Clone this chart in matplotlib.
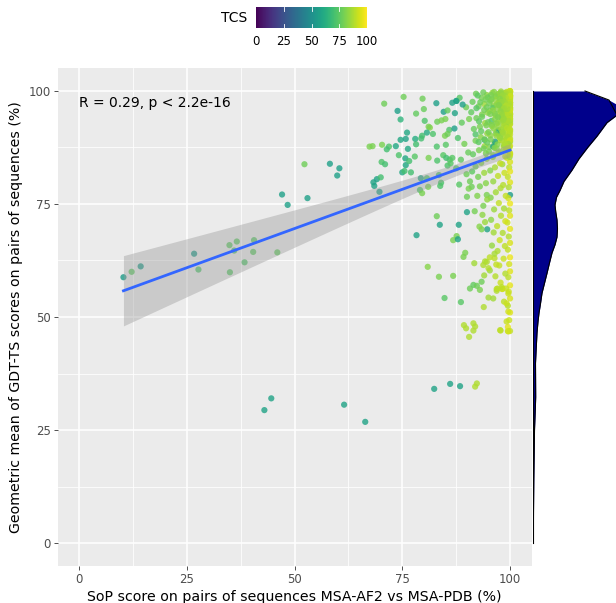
import numpy as np
import matplotlib
matplotlib.use("Agg")
import matplotlib.pyplot as plt
from matplotlib.colors import Normalize
from matplotlib import cm

# ---------------- data ----------------
# (SoP, GDT-TS geometric mean, TCS)
sparse_sop = [10.3, 12.2, 14.3, 26.7, 27.7, 34.9, 36.6, 36.0, 40.4, 38.4, 35.0, 46.0, 40.6,
              44.6, 43.0, 61.5, 66.4,
              52.3, 58.2, 60.4, 59.9, 47.1, 53.0, 48.4]
sparse_gdt = [58.8, 60.0, 61.2, 64.0, 60.5, 65.9, 66.7, 64.7, 64.4, 62.1, 59.9, 64.3, 67.0,
              32.0, 29.4, 30.6, 26.8,
              83.8, 83.9, 82.9, 81.3, 77.1, 76.3, 74.8]
sparse_tcs = [55, 75, 55, 55, 72, 75, 75, 72, 75, 73, 74, 76, 74,
              58, 58, 58, 58,
              78, 57, 57, 57, 57, 57, 57]

mid_sop = [70.8, 75.3, 79.7, 82.9, 86.6, 87.6, 73.9, 78.2, 80.0, 84.6, 85.5, 74.6, 80.2, 83.1,
           84.1, 85.0, 81.4, 81.1, 85.9, 76.1, 79.6, 80.7, 82.1, 84.9, 85.5, 74.6, 75.8, 78.0,
           79.4, 67.4, 68.1, 70.3, 71.9, 73.5, 71.4, 76.3, 78.2, 83.0, 85.1, 74.2, 75.7, 77.9,
           81.1, 83.1, 84.5, 85.2, 86.0, 86.6, 70.2, 71.0, 75.8, 76.6, 85.5, 86.2, 75.0, 75.5,
           77.0, 83.5, 68.3, 69.1, 70.0, 79.3, 80.7, 68.5, 69.7, 79.1, 79.6, 81.0, 83.8, 84.0,
           83.0, 83.7, 78.3, 88.1, 86.8, 87.6, 87.9, 80.9, 83.5, 86.8, 84.8, 88.6, 90.7, 91.5,
           92.3, 93.0, 93.4, 91.7, 93.8, 94.6, 93.9, 95.0, 96.1, 96.9, 98.2, 89.3, 89.8, 91.5,
           91.9, 91.5, 90.5, 97.8, 99.5, 82.4, 86.1, 88.4, 91.9, 92.3, 90.0, 94.7, 90.0, 91.1,
           90.7, 93.8, 94.6, 93.4, 89.6, 89.2]
mid_gdt = [97.2, 98.7, 98.3, 97.3, 97.4, 97.8, 95.6, 95.0, 96.0, 95.4, 95.7, 93.7, 93.4, 93.2,
           93.5, 93.8, 91.9, 92.1, 91.4, 90.8, 90.1, 90.8, 90.5, 90.1, 90.5, 89.2, 89.4, 89.4,
           89.5, 87.7, 87.8, 88.1, 87.7, 87.8, 87.1, 87.2, 88.2, 87.7, 88.1, 85.8, 85.1, 85.5,
           85.2, 84.6, 85.8, 85.2, 84.8, 85.2, 84.3, 83.8, 83.6, 84.5, 83.5, 84.0, 82.0, 82.3,
           82.0, 81.4, 79.8, 80.5, 80.9, 80.7, 80.7, 79.0, 77.7, 78.1, 77.4, 78.8, 79.0, 79.7,
           72.3, 70.4, 68.1, 70.4, 67.0, 67.9, 67.2, 61.1, 58.9, 59.1, 54.2, 53.3, 56.3, 57.1,
           56.9, 56.0, 57.8, 61.9, 61.5, 62.2, 52.2, 54.3, 54.1, 56.2, 56.2, 48.2, 47.5, 48.6,
           47.9, 47.0, 45.6, 47.0, 46.9, 34.1, 35.2, 34.7, 34.6, 35.3, 73.2, 69.4, 76.6, 78.8,
           80.0, 74.6, 77.0, 69.4, 64.2, 63.3]
mid_tcs = [78, 78, 78, 57, 58, 60, 57, 76, 77, 57, 76, 65, 72, 78,
           80, 80, 82, 80, 72, 60, 70, 62, 72, 80, 78, 60, 58, 62,
           70, 80, 80, 80, 72, 60, 70, 60, 70, 72, 74, 72, 60, 74,
           80, 72, 74, 70, 72, 74, 72, 70, 60, 70, 72, 74, 60, 70,
           70, 72, 58, 58, 70, 60, 72, 58, 58, 72, 80, 80, 72, 72,
           78, 58, 58, 58, 80, 80, 58, 82, 80, 80, 74, 74, 78, 76,
           78, 80, 78, 86, 88, 88, 88, 86, 86, 90, 90, 88, 88, 88,
           88, 88, 88, 90, 90, 58, 58, 58, 88, 88, 58, 58, 78, 78,
           78, 80, 80, 80, 80, 80]

dense_sop = [100, 99.7, 100, 99.5, 100, 99.8, 100, 99.6, 100, 99.9, 99.4, 100, 99.7, 100, 99.5,
             100, 99.8, 100, 99.6, 100, 99.3, 100, 99.8, 100, 99.5, 100, 99.7, 100, 99.6, 100,
             99.8, 100, 99.4, 100, 99.7, 100, 99.5, 100, 99.8, 100, 99.6, 100, 99.7, 100, 99.5,
             100, 99.8, 99.5, 100,
             99.0, 98.6, 98.9, 98.3, 98.8, 98.4, 99.1, 98.5, 98.9, 98.2, 98.7, 98.4, 99.0, 98.6,
             98.9, 98.3, 98.8, 98.5, 98.9, 98.2, 98.6,
             97.6, 96.8, 95.9, 97.3, 96.2, 95.5, 97.8, 96.6, 95.3, 97.1, 95.8, 96.9, 95.4, 97.6,
             96.4, 95.2, 97.3, 96.0, 97.7, 96.5, 95.4, 97.2, 96.1, 97.8, 96.7, 95.5, 97.4, 96.3,
             97.9, 95.6, 97.0, 96.2, 97.6, 95.8, 97.1, 96.4, 97.5, 95.3, 96.6, 97.8, 96.9,
             94.6, 93.4, 92.1, 94.0, 92.7, 91.3, 94.8, 93.5, 92.2, 91.0, 94.2, 93.0, 91.6, 94.7,
             93.2, 92.0, 94.1, 92.8, 91.4, 94.6, 93.3, 92.0, 94.0, 92.6, 91.2, 94.4, 93.0, 92.4,
             94.7, 93.6, 91.8, 94.2, 92.9,
             97.1, 98.1, 99.1, 99.6, 99.2, 99.6, 99.2, 99.6, 97.7,
             94.2, 95.3, 96.4, 95.0, 96.8, 94.0,
             88.3, 89.8, 90.5, 88.8, 87.9, 89.4, 90.3, 88.6, 87.5, 89.9, 88.2, 90.4,
             87.5, 89.0, 87.2, 96.0, 95.7, 97.3, 94.1, 96.1, 87.1, 97.3, 96.5]
dense_gdt = [100.0, 99.4, 98.8, 98.1, 97.5, 96.9, 96.2, 95.4, 94.9, 94.1, 93.3, 92.6, 91.8, 91.0,
             90.2, 89.5, 88.6, 87.9, 87.0, 86.1, 85.2, 84.3, 83.1, 82.2, 81.0, 79.8, 78.7, 77.0,
             76.3, 75.1, 73.6, 72.4, 70.9, 69.5, 67.8, 66.4, 64.9, 63.2, 61.7, 60.1, 58.8, 57.0,
             55.6, 54.1, 52.5, 51.0, 49.3, 47.8, 46.9,
             99.2, 97.8, 96.0, 94.4, 92.7, 90.9, 89.3, 87.6, 85.5, 83.8, 81.9, 79.2, 76.8, 74.0,
             71.2, 68.6, 65.7, 62.9, 59.6, 56.2, 53.4,
             99.5, 98.9, 99.6, 97.4, 96.8, 97.9, 95.3, 94.6, 95.6, 93.0, 92.2, 91.0, 90.2, 89.1,
             88.4, 87.6, 86.3, 85.4, 84.0, 83.1, 82.4, 81.2, 80.0, 78.5, 77.6, 76.4, 75.2, 73.8,
             72.4, 71.5, 70.1, 68.7, 67.0, 65.8, 64.6, 63.0, 61.4, 60.3, 59.0, 57.6, 55.8,
             99.1, 98.5, 99.4, 97.1, 96.6, 97.6, 95.2, 94.8, 94.0, 95.3, 92.9, 92.1, 91.6, 90.6,
             89.8, 89.0, 87.8, 86.9, 86.0, 85.0, 84.1, 83.3, 81.9, 81.0, 82.2, 79.6, 78.9, 76.8,
             76.0, 72.6, 73.4, 71.0, 70.0,
             56.3, 56.6, 56.3, 55.2, 53.0, 51.2, 49.0, 46.8, 47.1,
             62.3, 63.2, 64.0, 60.8, 61.6, 59.2,
             98.5, 96.4, 93.8, 93.0, 89.6, 88.3, 86.4, 84.8, 82.9, 81.6, 79.3, 78.4,
             97.8, 97.0, 95.1, 96.3, 93.4, 91.3, 89.2, 87.7, 91.7, 90.6, 88.8]
dense_tcs = [94, 96, 92, 97, 90, 95, 93, 98, 91, 96, 88, 94, 97, 92, 95,
             90, 96, 93, 89, 97, 92, 94, 90, 96, 91, 95, 88, 55, 93, 97,
             90, 95, 92, 96, 89, 94, 91, 97, 93, 95, 90, 96, 92, 94, 89,
             95, 92, 96, 91,
             90, 88, 93, 86, 91, 85, 92, 88, 90, 86, 92, 89, 91, 87,
             93, 88, 90, 92, 89, 93, 90,
             88, 86, 84, 90, 85, 83, 89, 87, 82, 91, 84, 88, 83, 90,
             86, 80, 89, 85, 91, 87, 82, 90, 84, 88, 86, 81, 91, 85,
             89, 83, 90, 86, 92, 84, 88, 90, 91, 85, 89, 92, 88,
             84, 80, 78, 86, 79, 77, 83, 81, 78, 76, 85, 80, 77, 84,
             82, 79, 86, 80, 76, 83, 81, 78, 85, 79, 75, 82, 80, 81,
             84, 83, 79, 85, 82,
             90, 90, 92, 92, 92, 93, 92, 93, 90,
             88, 90, 87, 89, 91, 86,
             74, 78, 80, 76, 72, 79, 77, 75, 73, 78, 74, 80,
             58, 57, 58, 74, 72, 58, 58, 58, 57, 58, 58]

# heavily overplotted high-score points near SoP = 100
top_sop = [100, 99.8, 100, 99.6, 100, 99.9, 100, 99.7, 100, 99.5, 100, 99.8, 100, 99.6, 100,
           99.9, 100, 99.7, 100, 99.4,
           99.2, 98.7, 99.0, 98.4, 99.3, 98.8, 98.1, 99.1, 98.6, 99.4, 98.3, 98.9, 99.2, 98.5,
           99.0, 98.2, 98.8, 99.3, 98.6, 99.1,
           97.9, 97.2, 96.6, 98.3, 97.5, 96.9, 98.1, 97.0, 96.5, 97.7, 98.4, 96.8, 97.3, 98.0,
           96.7, 97.6, 98.2, 97.1, 96.9, 97.8,
           100, 99.7, 99.9, 100, 99.6, 100, 99.8, 100, 99.5, 100, 99.9, 100, 99.7, 100, 99.8,
           100, 99.6, 100, 99.9, 100,
           96.3, 95.6, 94.8, 96.7, 95.2, 94.6, 96.0, 95.4, 96.5, 94.9, 95.8, 96.2, 95.0, 96.8,
           95.5, 94.7, 96.4, 95.1, 96.1, 95.7,
           99.4, 100, 99.7, 99.2, 100, 99.5, 99.8, 99.3, 100, 99.6, 99.1, 100, 99.8, 99.4, 100,
           99.6, 99.9, 99.3, 100, 99.7,
           93.8, 92.5, 94.3, 93.1, 92.2, 94.0, 93.5, 92.8, 94.5, 93.3, 92.0, 94.1, 92.7, 93.9,
           94.4,
           98.9, 97.8, 99.2, 98.4, 97.6, 98.7, 99.0, 98.1, 97.9, 98.6, 99.3, 98.3, 97.7, 98.8,
           99.1]
top_gdt = [99.7, 99.2, 98.5, 97.9, 97.2, 96.6, 95.8, 95.1, 94.4, 93.7, 92.8, 99.9, 98.9, 98.2,
           96.0, 94.7, 93.2, 91.6, 90.4, 89.6,
           99.8, 99.5, 98.6, 98.9, 97.7, 97.1, 96.3, 96.0, 95.2, 94.8, 94.0, 93.5, 92.6, 91.9,
           91.2, 90.5, 89.8, 88.9, 88.0, 87.1,
           99.9, 99.3, 98.8, 98.2, 97.6, 97.0, 96.5, 95.9, 95.0, 94.3, 93.6, 92.8, 92.1, 91.4,
           90.6, 89.9, 89.0, 88.2, 87.3, 86.5,
           100.0, 99.5, 99.0, 98.3, 97.8, 97.4, 96.8, 96.3, 95.6, 95.0, 94.2, 93.5, 92.3, 91.3,
           90.0, 88.8, 87.4, 86.3, 85.4, 99.8,
           99.8, 99.1, 98.6, 98.0, 97.3, 96.4, 95.7, 94.9, 93.8, 93.1, 92.5, 91.7, 90.9, 90.1,
           89.3, 88.6, 87.4, 86.6, 85.8, 98.2,
           99.6, 99.1, 98.4, 97.5, 96.9, 96.2, 95.5, 94.6, 93.9, 93.0, 92.2, 91.5, 90.8, 89.9,
           89.1, 88.3, 87.6, 86.8, 85.9, 97.0,
           99.7, 99.0, 98.1, 97.5, 96.2, 95.8, 94.3, 93.3, 92.4, 91.1, 90.4, 89.3, 88.7, 87.3,
           86.2,
           99.4, 98.7, 98.0, 97.3, 96.7, 95.6, 94.9, 94.1, 93.2, 92.5, 91.8, 90.9, 89.6, 88.4,
           86.9]
top_tcs = [92, 90, 93, 88, 91, 89, 94, 87, 92, 90, 88, 93, 91, 89, 92, 87, 90, 86, 91, 88,
           89, 86, 90, 85, 91, 86, 84, 89, 87, 90, 83, 88, 91, 85, 89, 84, 87, 90, 85, 88,
           85, 83, 81, 87, 84, 82, 86, 83, 80, 85, 87, 81, 84, 86, 80, 84, 87, 82, 81, 85,
           93, 91, 89, 92, 88, 90, 93, 87, 91, 89, 92, 86, 90, 88, 91, 87, 89, 92, 85, 94,
           82, 80, 77, 84, 79, 78, 83, 80, 82, 78, 81, 83, 79, 84, 80, 77, 82, 79, 81, 80,
           90, 92, 88, 91, 89, 87, 93, 86, 90, 88, 85, 91, 89, 87, 92, 86, 90, 88, 91, 89,
           78, 75, 79, 77, 74, 79, 77, 75, 80, 76, 73, 79, 75, 78, 80,
           88, 85, 89, 86, 84, 87, 90, 85, 83, 87, 89, 86, 84, 88, 89]

# the topmost, fully overplotted stack (near-perfect scores)
peak_sop = [100, 99.9, 99.7, 100, 99.8, 99.6, 100, 99.9, 99.5, 100, 99.8, 99.7, 100, 99.4,
            99.9, 100, 99.6, 99.8, 100, 99.7, 99.3, 100, 99.9, 99.5, 100, 99.8, 99.6, 100,
            99.7, 99.9, 99.2, 100, 99.8, 99.5, 100, 99.6, 99.9, 100, 99.7, 99.4,
            98.9, 98.6, 99.1, 98.4, 98.8, 99.0, 98.2, 98.7, 99.2, 98.5,
            97.9, 98.3, 97.6, 98.0, 97.4, 98.6, 97.8, 98.1, 97.2, 98.4]
peak_gdt = [99.9, 99.6, 99.3, 99.0, 98.7, 98.4, 98.0, 97.7, 97.3, 96.9, 96.6, 96.2, 95.8, 95.5,
            95.1, 94.7, 94.4, 94.0, 99.8, 99.4, 99.1, 98.6, 98.2, 97.9, 97.5, 97.1, 96.7, 96.3,
            95.9, 95.6, 95.2, 94.9, 94.5, 94.1, 93.8, 93.4, 99.7, 98.9, 97.2, 96.0,
            99.5, 99.0, 98.5, 98.0, 97.4, 96.8, 96.1, 95.4, 94.7, 94.0,
            99.6, 99.0, 98.3, 97.6, 96.9, 96.2, 95.5, 94.8, 94.2, 93.5]
peak_tcs = [91, 89, 92, 88, 90, 87, 93, 89, 86, 91, 88, 90, 92, 87, 89, 91, 86, 90, 93, 88,
            85, 92, 89, 87, 91, 88, 86, 90, 89, 92, 85, 91, 88, 86, 90, 87, 89, 92, 88, 86,
            87, 85, 88, 84, 86, 88, 83, 86, 89, 85,
            83, 85, 82, 84, 81, 86, 83, 84, 80, 85]

# marginal density of the GDT-TS score (y position, relative density width)
marg_y = [0, 7, 14, 20, 25, 29, 32.3, 36, 39.8, 43, 46.5, 49, 50.9, 53, 55.3, 57.5, 59.7, 62,
          64.2, 66, 67.7, 69.5, 71.5, 73.2, 74.8, 76.5, 78, 80, 82.5, 85, 87.6, 90, 93, 94,
          95, 96, 97, 98, 99, 100]
marg_d = [0.3, 0.5, 0.8, 1.2, 1.5, 2.2, 2.7, 2.6, 2.5, 3.2, 4, 5, 6, 7.5, 9, 11.5, 14, 16.5,
          19, 22, 24, 24.5, 24, 22.8, 22, 23.5, 27, 31, 39, 46, 55, 64, 74, 80,
          86, 88, 84, 76, 64, 52]

annotation = "R = 0.29, p < 2.2e-16"
x_label = "SoP score on pairs of sequences MSA-AF2 vs MSA-PDB (%)"
y_label = "Geometric mean of GDT-TS scores on pairs of sequences (%)"
ticks = [0, 25, 50, 75, 100]
tick_labels = ["0", "25", "50", "75", "100"]

# ---------------- figure ----------------
sop = np.array(sparse_sop + mid_sop + dense_sop + top_sop + peak_sop, dtype=float)
gdt = np.array(sparse_gdt + mid_gdt + dense_gdt + top_gdt + peak_gdt, dtype=float)
tcs = np.array(sparse_tcs + mid_tcs + dense_tcs + top_tcs + peak_tcs, dtype=float)

W, H = 616, 603
fig = plt.figure(figsize=(W / 100, H / 100), dpi=100)
fig.patch.set_facecolor("white")

def fx(px):
    return px / W

def fy(py):
    return 1 - py / H

ax = fig.add_axes([fx(57.5), fy(565.6), (531.6 - 57.5) / W, (565.6 - 68.4) / H])
ax.set_facecolor("#EBEBEB")
for s in ax.spines.values():
    s.set_visible(False)
ax.set_xlim(-5, 105)
ax.set_ylim(-5, 105)
ax.set_xticks(ticks)
ax.set_xticklabels(tick_labels)
ax.set_yticks(ticks)
ax.set_yticklabels(tick_labels)
ax.set_xticks([12.5, 37.5, 62.5, 87.5], minor=True)
ax.set_yticks([12.5, 37.5, 62.5, 87.5], minor=True)
ax.grid(which="major", color="white", linewidth=1.1)
ax.grid(which="minor", color="white", linewidth=0.55)
ax.tick_params(which="major", length=3, width=0.6, color="#333333",
               labelsize=8.5, labelcolor="#4D4D4D", pad=2)
ax.tick_params(which="minor", length=0)
ax.set_axisbelow(True)

norm = Normalize(0, 100)
cmap = matplotlib.colormaps["viridis"]
ax.scatter(sop, gdt, c=tcs, cmap=cmap, norm=norm, s=20, alpha=0.8,
           linewidths=0, zorder=2)

# linear fit with 95% confidence band
n = len(sop)
slope, intercept = np.polyfit(sop, gdt, 1)
xs = np.linspace(sop.min(), sop.max(), 200)
yhat = intercept + slope * xs
resid = gdt - (intercept + slope * sop)
s_err = np.sqrt(np.sum(resid ** 2) / (n - 2))
sxx = np.sum((sop - sop.mean()) ** 2)
se = s_err * np.sqrt(1 / n + (xs - sop.mean()) ** 2 / sxx)
tval = 1.965
ax.fill_between(xs, yhat - tval * se, yhat + tval * se, color="#999999",
                alpha=0.4, linewidth=0, zorder=3)
ax.plot(xs, yhat, color="#3366FF", linewidth=2.0, zorder=4)

ax.text(0, 97.3, annotation, fontsize=10, color="black", va="center", ha="left")
ax.set_xlabel(x_label, fontsize=10.2, color="black", labelpad=3)
ax.set_ylabel(y_label, fontsize=10.2, color="black", labelpad=4)

# marginal density on the right
axm = fig.add_axes([fx(533), fy(565.6), (W - 533) / W, (565.6 - 68.4) / H])
axm.set_ylim(-5, 105)
axm.set_xlim(0, 83)
axm.axis("off")
axm.fill_betweenx(marg_y, 0, marg_d, color="#00008B", linewidth=0)
axm.plot(marg_d, marg_y, color="black", linewidth=0.8)
axm.plot([0, 0], [0, 100], color="black", linewidth=0.8)

# colorbar on top
cax = fig.add_axes([fx(256), fy(28), 111 / W, 21 / H])
cb = fig.colorbar(cm.ScalarMappable(norm=norm, cmap=cmap), cax=cax,
                  orientation="horizontal", ticks=ticks)
cb.outline.set_visible(False)
cb.ax.set_xticklabels(tick_labels)
cb.ax.tick_params(length=0, labelsize=8.5, labelcolor="black", pad=5)
for t in [25, 50, 75]:
    cax.plot([t, t], [0, 0.2], color="white", linewidth=0.6, transform=cax.get_xaxis_transform())
    cax.plot([t, t], [0.8, 1.0], color="white", linewidth=0.6, transform=cax.get_xaxis_transform())
fig.text(fx(247), fy(18), "TCS", fontsize=10, ha="right", va="center")

fig.savefig("out.png", dpi=100, facecolor="white")
